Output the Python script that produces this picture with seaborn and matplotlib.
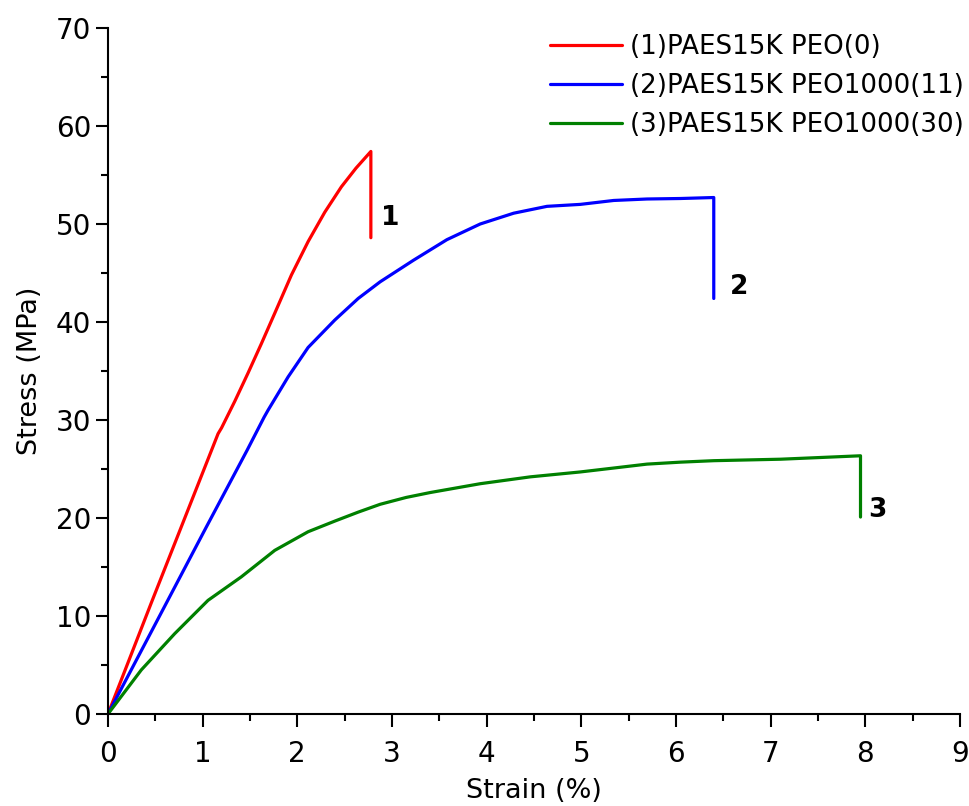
import matplotlib
matplotlib.use("Agg")
import matplotlib.pyplot as plt
from matplotlib.ticker import MultipleLocator
import numpy as np
import pandas as pd
import seaborn as sns

# Stress–strain curves (strain in %, stress in MPa); last point is the break drop
strain_1 = [0.0, 0.194, 0.46, 0.885, 1.163, 1.20, 1.339, 1.480, 1.621, 1.762, 1.938,
            2.114, 2.29, 2.466, 2.62, 2.777, 2.777]
stress_1 = [0.0, 4.8, 11.4, 21.8, 28.6, 29.2, 31.9, 34.8, 37.8, 40.9, 44.8,
            48.2, 51.2, 53.8, 55.7, 57.4, 48.6]

strain_2 = [0.0, 0.447, 1.04, 1.469, 1.65, 1.691, 1.903, 2.114, 2.396, 2.643, 2.875, 3.227,
            3.580, 3.932, 4.285, 4.637, 4.989, 5.342, 5.694, 6.047, 6.399, 6.399]
stress_2 = [0.0, 8.2, 19.1, 26.9, 30.3, 31.0, 34.4, 37.4, 40.2, 42.4, 44.1, 46.3,
            48.4, 50.0, 51.1, 51.8, 52.0, 52.4, 52.55, 52.6, 52.7, 42.4]

strain_3 = [0.0, 0.352, 0.705, 1.057, 1.409, 1.762, 2.114, 2.40, 2.643, 2.875, 3.15,
            3.404, 3.932, 4.461, 4.989, 5.342, 5.694, 6.047, 6.399, 7.104, 7.949, 7.949]
stress_3 = [0.0, 4.5, 8.2, 11.6, 14.0, 16.7, 18.6, 19.7, 20.6, 21.4, 22.1,
            22.6, 23.5, 24.2, 24.7, 25.1, 25.5, 25.7, 25.85, 26.0, 26.35, 20.1]

series_names = ["(1)PAES15K PEO(0)", "(2)PAES15K PEO1000(11)", "(3)PAES15K PEO1000(30)"]
curve_tags = ["1", "2", "3"]
tag_x = [2.88, 6.57, 8.03]
tag_y = [50.6, 43.6, 20.8]
colors = ["#ff0000", "#0000ff", "#008000"]

frames = []
for name, xs, ys in zip(series_names, [strain_1, strain_2, strain_3], [stress_1, stress_2, stress_3]):
    frames.append(pd.DataFrame({"Strain": xs, "Stress": ys, "Sample": name,
                                "order": np.arange(len(xs))}))
df = pd.concat(frames, ignore_index=True)

sns.set_style("ticks")
plt.rcParams["font.family"] = ["DejaVu Sans"]
plt.rcParams["text.color"] = "black"
plt.rcParams["axes.labelcolor"] = "black"
plt.rcParams["xtick.color"] = "black"
plt.rcParams["ytick.color"] = "black"

fig = plt.figure(figsize=(9.70, 8.06), dpi=100)
ax = fig.add_axes([0.1113, 0.1141, 0.8784, 0.8512])

sns.lineplot(data=df, x="Strain", y="Stress", hue="Sample", palette=colors,
             sort=False, estimator=None, units="Sample", linewidth=2.3, ax=ax)

ax.set_xlim(0, 9)
ax.set_ylim(0, 70)
ax.xaxis.set_major_locator(MultipleLocator(1))
ax.xaxis.set_minor_locator(MultipleLocator(0.5))
ax.yaxis.set_major_locator(MultipleLocator(10))
ax.yaxis.set_minor_locator(MultipleLocator(5))
ax.tick_params(which="major", direction="out", length=9, width=1.5, labelsize=20, color="black")
ax.tick_params(which="minor", direction="out", length=5, width=1.5, color="black")
ax.tick_params(axis="x", which="major", pad=10)
ax.tick_params(axis="y", which="major", pad=3)
for side in ["top", "right"]:
    ax.spines[side].set_visible(False)
for side in ["left", "bottom"]:
    ax.spines[side].set_linewidth(1.5)
    ax.spines[side].set_color("black")

ax.set_xlabel("Strain (%)", fontsize=19.5, labelpad=7)
ax.set_ylabel("Stress (MPa)", fontsize=19.5, labelpad=9)

# Curve numbers beside the break points
for tag, x, y in zip(curve_tags, tag_x, tag_y):
    ax.text(x, y, tag, fontsize=19, fontweight="bold", ha="left", va="center")

leg = ax.legend(loc="upper left", bbox_to_anchor=(0.5188, 0.991), frameon=False, fontsize=18.8,
                handlelength=2.75, handletextpad=0.3, labelspacing=0.5,
                borderpad=0, borderaxespad=0)
for line in leg.get_lines():
    line.set_linewidth(2.3)

fig.savefig("out.png", dpi=100)
